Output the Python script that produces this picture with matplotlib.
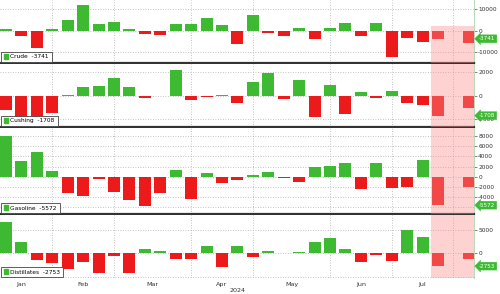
import numpy as np
import matplotlib.pyplot as plt
import matplotlib.transforms as mtransforms
from matplotlib.patches import Patch

# weekly index, week 0 = 2024-01-05; slot 29 is empty on the chart
weeks = list(range(29)) + [30]

crude = [1000, -2300, -8000, 800, 5100, 12000, 3100, 3900, 1000, -1500,
         -2000, 3000, 3000, 6000, 2600, -6300, 7300, -1200, -2500, 1500,
         -4000, 1100, 3700, -2500, 3400, -12000, -3300, -5100, -3741, -5500]
cushing = [-1200, -2100, -1900, -1500, 50, 770, 800, 1550, 750, -170,
           -30, 2170, -340, -120, 30, -600, 1140, 1950, -290, 1370,
           -1800, 910, -1540, 340, -170, 400, -660, -800, -1708, -1090]
gasoline = [8000, 3000, 4900, 1050, -3200, -3700, -400, -2900, -4500, -5650,
            -3250, 1300, -4300, 650, -1170, -650, 330, 900, -330, -1000,
            2000, 2200, 2600, -2340, 2730, -2200, -1950, 3300, -5572, -1950]
distillates = [6800, 2350, -1430, -2100, -3400, -1930, -4140, -500, -4300, 860,
               570, -1200, -1300, 1640, -2860, 1640, -710, 500, 150, 360,
               2500, 3360, 860, -1790, -430, -1570, 5000, 3570, -2753, -1200]

names = ['Crude', 'Cushing', 'Gasoline', 'Distillates']
series = [crude, cushing, gasoline, distillates]
last_idx = 28  # latest reported week (value shown in legend/callout)

month_labels = ['Jan', 'Feb', 'Mar', 'Apr', 'May', 'Jun', 'Jul']
month_pos = [1, 5, 9.5, 14, 18.5, 23, 27]
month_ends = [3, 7, 12, 16, 21, 25, 29]

yticks = [[-10000, 0, 10000],
          [-2000, 0, 2000],
          [-6000, -4000, -2000, 0, 2000, 4000, 6000, 8000],
          [-5000, 0, 5000]]
ylims = [(-15000, 14300), (-2680, 2710), (-7300, 9550), (-5300, 8220)]
ytick_show = [[-10000, 0, 10000], [-2000, 0, 2000],
              [-4000, -2000, 0, 2000, 4000, 6000, 8000], [0, 5000]]

green = '#3dba32'
red = '#ec1a1a'
pink = '#ff8f8f'

H = 294.0
W = 500.0
rows = [(0, 63), (64, 127), (128, 214), (215, 278)]

fig = plt.figure(figsize=(5, 2.94), dpi=100)

for i, (top, bot) in enumerate(rows):
    ax = fig.add_axes([0, 1 - bot / H, 474 / W, (bot - top) / H])
    vals = series[i]
    cols = [green if v >= 0 else red for v in vals]
    ax.bar(weeks, vals, width=0.78, color=cols, zorder=2)
    ax.set_xlim(-0.39, 30.33)
    ax.set_ylim(*ylims[i])

    # grid
    for yv in yticks[i]:
        ax.axhline(yv, color='#b0b0b0', lw=0.6, ls=(0, (1, 2)), zorder=1)
    for xv in month_ends:
        ax.axvline(xv, color='#b0b0b0', lw=0.6, ls=(0, (1, 2)), zorder=1)

    # highlighted latest weeks
    ymax = 0.587 if i == 0 else 1
    ax.axvspan(27.52, 30.4, ymin=0, ymax=ymax, color=pink, alpha=0.4, lw=0, zorder=3)

    ax.yaxis.tick_right()
    ax.set_yticks(ytick_show[i])
    ax.set_yticklabels([str(t) for t in ytick_show[i]])
    ax.tick_params(axis='y', labelsize=4.2, length=2, width=0.5, pad=1,
                   colors='#555555', labelcolor='#333333')
    for s in ['top', 'left']:
        ax.spines[s].set_visible(False)
    ax.spines['right'].set_color('#b8d8b8')
    ax.spines['right'].set_linewidth(0.7)
    if i < 3:
        ax.spines['bottom'].set_color('#333333')
        ax.spines['bottom'].set_linewidth(1.6)
        ax.set_xticks([])
    else:
        ax.spines['bottom'].set_visible(False)
        ax.set_xticks(month_pos)
        ax.set_xticklabels(month_labels)
        ax.tick_params(axis='x', length=0, labelsize=4.6, pad=3, labelcolor='#333333')

    # callout with latest value
    v = vals[last_idx]
    trans = mtransforms.blended_transform_factory(ax.transAxes, ax.transData)
    trans = trans + mtransforms.ScaledTranslation(5 / 100, 0, fig.dpi_scale_trans)
    ax.text(1.0, v, str(v), transform=trans, color='white', fontsize=4.1,
            va='center', ha='left', zorder=10, clip_on=False,
            bbox=dict(boxstyle='larrow,pad=0.25', fc=green, ec=green, lw=0.3))

    # legend box
    leg = ax.legend(handles=[Patch(color=green)], labels=[f'{names[i]}  {v}'],
                    loc='lower left', fontsize=4.2, frameon=True, fancybox=False,
                    framealpha=1, edgecolor='#444444', handlelength=0.8,
                    handleheight=0.8, handletextpad=0.4, borderpad=0.45,
                    borderaxespad=0.15)
    leg.get_frame().set_linewidth(0.6)
    leg.set_zorder(11)

fig.text(238 / W, 1 - 290 / H, '2024', fontsize=4.6, ha='center', va='center',
         color='#333333')

fig.savefig('out.png', dpi=100)
